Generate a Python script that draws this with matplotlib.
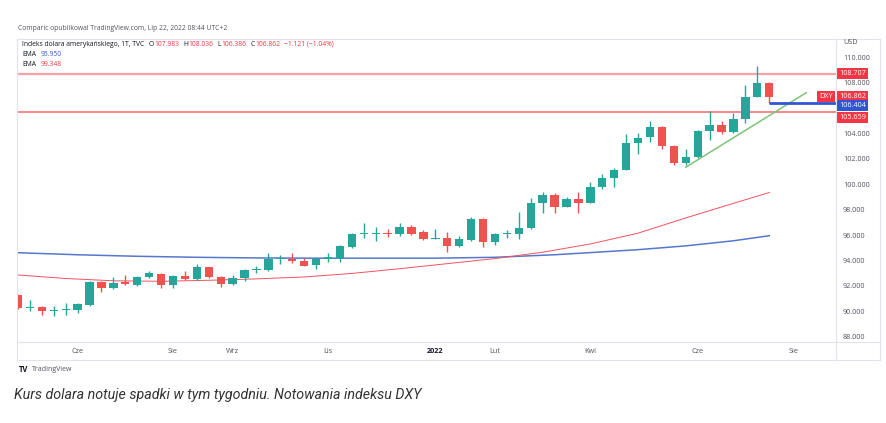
import matplotlib
matplotlib.use("Agg")
import matplotlib.pyplot as plt
import matplotlib.transforms as mtransforms
from matplotlib.lines import Line2D
import numpy as np

# weekly DXY candles (May 2021 - Jul 2022)
opens = [91.28, 90.28, 90.31, 90.05, 90.12, 90.12, 90.50, 92.33, 91.81, 92.33,
         92.07, 92.70, 92.94, 92.07, 92.78, 92.52, 93.46, 92.68, 92.15, 92.60,
         93.25, 93.25, 94.10, 94.12, 93.96, 93.65, 94.15, 94.22, 95.09, 96.10,
         96.10, 96.19, 96.06, 96.66, 96.22, 95.72, 95.75, 95.17, 95.61, 97.24,
         95.48, 96.06, 96.09, 96.53, 98.50, 99.16, 98.24, 98.82, 98.55, 99.81,
         100.52, 101.13, 103.23, 103.70, 104.49, 103.04, 101.65, 102.17, 104.22, 104.67,
         104.14, 105.12, 106.90, 107.983]
highs = [91.35, 90.90, 90.38, 90.40, 90.63, 90.63, 92.40, 92.35, 92.72, 92.86,
         92.80, 93.15, 93.00, 92.85, 93.17, 93.72, 93.50, 92.80, 92.86, 93.30,
         93.57, 94.57, 94.43, 94.57, 94.17, 94.30, 94.61, 95.20, 96.15, 96.93,
         96.61, 96.50, 96.93, 96.80, 96.40, 96.48, 96.27, 95.93, 97.45, 97.32,
         96.20, 96.40, 97.79, 98.90, 99.42, 99.30, 99.02, 99.42, 100.20, 100.79,
         101.31, 103.96, 104.06, 105.01, 104.61, 103.10, 102.76, 104.30, 105.80, 104.98,
         105.64, 107.82, 109.29, 108.036]
lows = [90.15, 90.05, 89.70, 89.60, 89.71, 89.90, 90.45, 91.55, 91.75, 92.05,
        92.00, 92.60, 91.86, 91.86, 92.45, 92.45, 92.60, 91.94, 92.05, 92.41,
        93.04, 93.20, 93.72, 93.78, 93.55, 93.30, 93.90, 93.90, 95.00, 95.80,
        95.56, 95.85, 95.95, 96.00, 95.61, 95.72, 94.65, 95.10, 95.55, 95.10,
        95.22, 95.75, 95.67, 96.45, 97.72, 97.72, 98.20, 97.72, 98.50, 99.63,
        99.81, 101.10, 102.39, 103.35, 102.76, 101.52, 101.55, 102.05, 103.49, 103.96,
        104.05, 104.85, 106.85, 106.386]
closes = [90.24, 90.36, 90.05, 90.12, 90.20, 90.55, 92.33, 91.81, 92.25, 92.13,
          92.72, 93.00, 92.07, 92.78, 92.52, 93.46, 92.72, 92.15, 92.65, 93.25,
          93.35, 94.12, 94.15, 93.94, 93.59, 94.12, 94.25, 95.14, 96.06, 96.17,
          96.20, 96.06, 96.66, 96.06, 95.69, 95.78, 95.17, 95.67, 97.24, 95.48,
          96.06, 96.20, 96.58, 98.50, 99.16, 98.24, 98.84, 98.55, 99.81, 100.52,
          101.13, 103.23, 103.67, 104.49, 103.02, 101.70, 102.13, 104.22, 104.67, 104.14,
          105.12, 106.90, 107.98, 106.862]

# EMA lines (sampled at bar index)
ema_slow_idx = [0, 5, 10, 15, 20, 25, 30, 35, 40, 45, 48, 52, 56, 60, 63]
ema_slow = [94.61, 94.45, 94.33, 94.25, 94.20, 94.18, 94.18, 94.18, 94.25, 94.45,
            94.62, 94.85, 95.15, 95.55, 95.95]
ema_fast_idx = [0, 4, 8, 12, 16, 20, 24, 28, 32, 36, 40, 44, 48, 52, 56, 60, 63]
ema_fast = [92.86, 92.58, 92.40, 92.36, 92.44, 92.55, 92.70, 92.98, 93.35, 93.75,
            94.15, 94.65, 95.30, 96.15, 97.35, 98.50, 99.35]

# drawn levels and trendline
resistance = 108.707
support = 105.659
last_low_level = 106.404
last_close = 106.862
trend_idx = [56.0, 66.1]
trend_val = [101.34, 107.21]

month_pos = [5, 13, 18, 26, 35, 40, 48, 57, 65]
month_lab = ["Cze", "Sie", "Wrz", "Lis", "2022", "Lut", "Kwi", "Cze", "Sie"]
price_ticks = [88, 90, 92, 94, 96, 98, 100, 102, 104, 108, 110]

UP = "#26a69a"
DOWN = "#ef5350"
W, H = 886, 423

fig = plt.figure(figsize=(W / 100, H / 100), dpi=100)
fig.patch.set_facecolor("white")
ax = fig.add_axes([18 / W, 1 - 342 / H, (836 - 18) / W, (342 - 39) / H])

x = np.arange(len(opens))
o = np.array(opens); c = np.array(closes)
cols = [UP if cc >= oo else DOWN for oo, cc in zip(o, c)]
ax.vlines(x, lows, highs, colors=cols, lw=1.0, zorder=3)
body_h = np.maximum(np.abs(c - o), 0.07)
ax.bar(x, body_h, bottom=np.minimum(o, c), width=0.7, color=cols, zorder=4, linewidth=0)

ax.plot(ema_slow_idx, ema_slow, color="#5577cc", lw=1.1, zorder=2)
ax.plot(ema_fast_idx, ema_fast, color="#f4525e", lw=0.7, zorder=2)

ax.axhline(resistance, color="#f7a1a7", lw=1.6, zorder=1)
ax.axhline(support, color="#f4737b", lw=1.2, zorder=1)
ax.plot(trend_idx, trend_val, color="#7cc576", lw=1.1, zorder=5)
ax.hlines(last_low_level, 63, 68.6, color="#2f55d4", lw=2.0, zorder=5)

ax.set_xlim(0.0, 68.6)
ax.set_ylim(87.58, 111.44)
for s in ax.spines.values():
    s.set_visible(False)

ax.yaxis.tick_right()
ax.set_yticks(price_ticks)
ax.set_yticklabels(["%.3f" % p for p in price_ticks])
ax.tick_params(axis="y", length=0, pad=5, labelsize=5.2, labelcolor="#50535e")
ax.set_xticks(month_pos)
ax.set_xticklabels(month_lab)
ax.tick_params(axis="x", length=0, pad=4, labelsize=5.2, labelcolor="#50535e")
for t in ax.get_xticklabels():
    t.set_fontfamily("Open Sans")
    if t.get_text() == "2022":
        t.set_fontweight("bold")
        t.set_color("#131722")
for t in ax.get_yticklabels():
    t.set_fontfamily("Open Sans")

# price badges on the axis (shifted down a little where they would collide)
tr = mtransforms.blended_transform_factory(ax.transAxes, ax.transData)
for val, fc, dy in [(resistance, "#f23645", 0), (last_close, "#f23645", 0.4),
                    (last_low_level, "#2f55d4", -2.0), (support, "#f23645", -3.8)]:
    ax.annotate("%.3f" % val, xy=(1.004, val), xycoords=tr, xytext=(0, dy),
                textcoords="offset points", ha="left", va="center",
                fontsize=5.2, color="white", family="Open Sans", zorder=10,
                annotation_clip=False,
                bbox=dict(boxstyle="square,pad=0.28", fc=fc, ec="none"))
ax.annotate("DXY", xy=(0.996, last_close), xycoords=tr, xytext=(0, 0.4),
            textcoords="offset points", ha="right", va="center",
            fontsize=5.2, color="white", family="Open Sans", zorder=10,
            bbox=dict(boxstyle="square,pad=0.28", fc="#f23645", ec="none"))

# frame lines
fc_ = "#e0e3eb"
def fline(x0, y0, x1, y1):
    fig.add_artist(Line2D([x0 / W, x1 / W], [1 - y0 / H, 1 - y1 / H], color=fc_, lw=0.8))
fline(17, 39, 880, 39)
fline(17, 360, 880, 360)
fline(17, 39, 17, 360)
fline(880, 39, 880, 360)
fline(836, 39, 836, 360)
fline(17, 342, 880, 342)

renderer = fig.canvas.get_renderer()

def ftext(px, py, s, **kw):
    kw.setdefault("fontsize", 4.9)
    kw.setdefault("family", "Open Sans")
    kw.setdefault("va", "center")
    t = fig.text(px / W, 1 - py / H, s, **kw)
    return t.get_window_extent(renderer).x1

ftext(18, 29, "Comparic opublikowal TradingView.com, Lip 22, 2022 08:44 UTC+2", color="#50535e")

# legend row: chained pieces so nothing overlaps
dark = "#131722"
red = "#f23645"
xe = ftext(22, 44, "Indeks dolara amerykańskiego, 1T, TVC", color=dark)
for lab, val in [("O", "107.983"), ("H", "108.036"), ("L", "106.386"), ("C", "106.862")]:
    xe = ftext(xe + 4, 44, lab, color=dark)
    xe = ftext(xe + 0.5, 44, val, color=red)
ftext(xe + 4, 44, "\u22121.121 (\u22121.04%)", color=red)
xe = ftext(22, 54, "EMA", color=dark)
ftext(xe + 5, 54, "95.950", color="#2f55d4")
xe = ftext(22, 64, "EMA", color=dark)
ftext(xe + 5, 64, "99.348", color=red)
ftext(843, 43, "USD", color="#50535e", fontsize=5.2)

ftext(19, 369, "TV", color=dark, fontweight="bold", fontsize=5.5)
ftext(32, 369, "TradingView", color="#50535e", fontsize=5)

fig.text(14 / W, 1 - 395 / H, "Kurs dolara notuje spadki w tym tygodniu. Notowania indeksu DXY",
         family="Roboto", style="italic", fontsize=10.3, color="#333333", va="center")

fig.savefig("out.png", dpi=100)
